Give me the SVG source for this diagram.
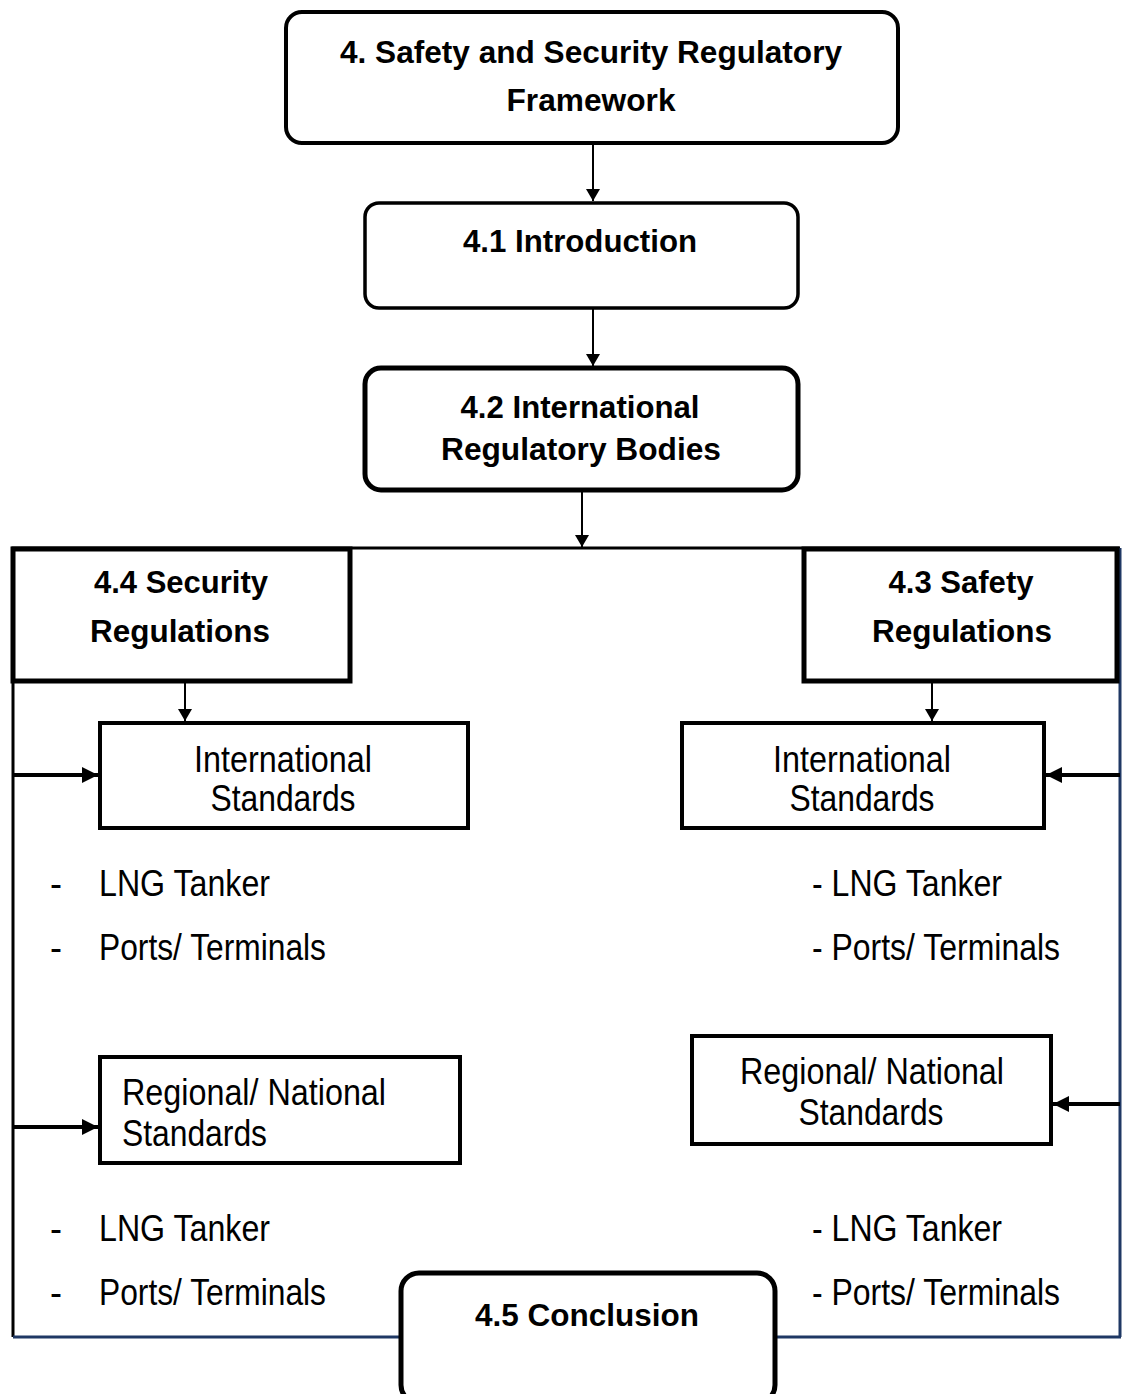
<svg xmlns="http://www.w3.org/2000/svg" width="1125" height="1394" viewBox="0 0 1125 1394">
  <style>
    .box { fill: #ffffff; stroke: #000000; }
    .b { font-family: "Liberation Sans", Arial, sans-serif; font-weight: bold; font-size: 31px; fill: #000000; }
    .r { font-family: "Liberation Sans", Arial, sans-serif; font-size: 36px; fill: #000000; }
    .thin { stroke: #000000; stroke-width: 2; fill: none; }
    .thick { stroke: #000000; stroke-width: 4; fill: none; }
    .frame { stroke: #000000; stroke-width: 3; fill: none; }
    .navy { stroke: #1f3864; stroke-width: 3; fill: none; }
  </style>
  <defs>
    <marker id="headThin" viewBox="0 0 12 14" refX="12" refY="7" markerWidth="12" markerHeight="14" markerUnits="userSpaceOnUse" orient="auto">
      <path d="M0,0 L12,7 L0,14 Z" fill="#000000"/>
    </marker>
    <marker id="headThick" viewBox="0 0 16 16" refX="16" refY="8" markerWidth="16" markerHeight="16" markerUnits="userSpaceOnUse" orient="auto">
      <path d="M0,0 L16,8 L0,16 Z" fill="#000000"/>
    </marker>
  </defs>

  <!-- outer frame and connectors -->
  <g id="connectors">
    <path class="frame" d="M13,1337 L13,548 L1120,548"/>
    <path class="navy" d="M1120,548 L1120,1337"/>
    <path class="navy" d="M13,1337 L400,1337"/>
    <path class="navy" d="M776,1337 L1121,1337"/>

    <line class="thin" x1="593" y1="144" x2="593" y2="201" marker-end="url(#headThin)"/>
    <line class="thin" x1="593" y1="309" x2="593" y2="366" marker-end="url(#headThin)"/>
    <line class="thin" x1="582" y1="491" x2="582" y2="547" marker-end="url(#headThin)"/>
    <line class="thin" x1="185" y1="682" x2="185" y2="721" marker-end="url(#headThin)"/>
    <line class="thin" x1="932" y1="682" x2="932" y2="721" marker-end="url(#headThin)"/>

    <line class="thick" x1="13" y1="775" x2="98" y2="775" marker-end="url(#headThick)"/>
    <line class="thick" x1="13" y1="1127" x2="98" y2="1127" marker-end="url(#headThick)"/>
    <line class="thick" x1="1120" y1="775" x2="1046" y2="775" marker-end="url(#headThick)"/>
    <line class="thick" x1="1120" y1="1104" x2="1053" y2="1104" marker-end="url(#headThick)"/>
  </g>

  <g id="n4">
    <rect class="box" x="286" y="12" width="612" height="131" rx="16" stroke-width="4"/>
    <text class="b" x="591" y="63" text-anchor="middle" textLength="502" lengthAdjust="spacingAndGlyphs">4. Safety and Security Regulatory</text>
    <text class="b" x="591" y="111" text-anchor="middle" textLength="169" lengthAdjust="spacingAndGlyphs">Framework</text>
  </g>

  <g id="n41">
    <rect class="box" x="365" y="203" width="433" height="105" rx="14" stroke-width="3.5"/>
    <text class="b" x="580" y="252" text-anchor="middle" font-size="34" textLength="234" lengthAdjust="spacingAndGlyphs">4.1 Introduction</text>
  </g>

  <g id="n42">
    <rect class="box" x="365" y="368" width="433" height="122" rx="16" stroke-width="5"/>
    <text class="b" x="580" y="418" text-anchor="middle" font-size="32" textLength="239" lengthAdjust="spacingAndGlyphs">4.2 International</text>
    <text class="b" x="581" y="460" text-anchor="middle" font-size="32" textLength="280" lengthAdjust="spacingAndGlyphs">Regulatory Bodies</text>
  </g>

  <g id="n44">
    <rect class="box" x="13" y="549" width="337" height="132" stroke-width="5"/>
    <text class="b" x="181" y="593" text-anchor="middle" font-size="29" textLength="174" lengthAdjust="spacingAndGlyphs">4.4 Security</text>
    <text class="b" x="180" y="642" text-anchor="middle" font-size="29" textLength="180" lengthAdjust="spacingAndGlyphs">Regulations</text>
  </g>

  <g id="n43">
    <rect class="box" x="804" y="549" width="313" height="132" stroke-width="5"/>
    <text class="b" x="961" y="593" text-anchor="middle" font-size="29" textLength="145" lengthAdjust="spacingAndGlyphs">4.3 Safety</text>
    <text class="b" x="962" y="642" text-anchor="middle" font-size="29" textLength="180" lengthAdjust="spacingAndGlyphs">Regulations</text>
  </g>

  <g id="sec-intl">
    <rect class="box" x="100" y="723" width="368" height="105" stroke-width="4"/>
    <text class="r" x="283" y="772" text-anchor="middle" textLength="178" lengthAdjust="spacingAndGlyphs">International</text>
    <text class="r" x="283" y="811" text-anchor="middle" textLength="145" lengthAdjust="spacingAndGlyphs">Standards</text>
  </g>

  <g id="saf-intl">
    <rect class="box" x="682" y="723" width="362" height="105" stroke-width="4"/>
    <text class="r" x="862" y="772" text-anchor="middle" textLength="178" lengthAdjust="spacingAndGlyphs">International</text>
    <text class="r" x="862" y="811" text-anchor="middle" textLength="145" lengthAdjust="spacingAndGlyphs">Standards</text>
  </g>

  <g id="sec-intl-items">
    <text class="r" x="50" y="896">-</text>
    <text class="r" x="99" y="896" textLength="171" lengthAdjust="spacingAndGlyphs">LNG Tanker</text>
    <text class="r" x="50" y="960">-</text>
    <text class="r" x="99" y="960" textLength="227" lengthAdjust="spacingAndGlyphs">Ports/ Terminals</text>
  </g>

  <g id="saf-intl-items">
    <text class="r" x="812" y="896" textLength="190" lengthAdjust="spacingAndGlyphs">- LNG Tanker</text>
    <text class="r" x="812" y="960" textLength="248" lengthAdjust="spacingAndGlyphs">- Ports/ Terminals</text>
  </g>

  <g id="sec-reg">
    <rect class="box" x="100" y="1057" width="360" height="106" stroke-width="4"/>
    <text class="r" x="122" y="1105" textLength="264" lengthAdjust="spacingAndGlyphs">Regional/ National</text>
    <text class="r" x="122" y="1146" textLength="145" lengthAdjust="spacingAndGlyphs">Standards</text>
  </g>

  <g id="saf-reg">
    <rect class="box" x="692" y="1036" width="359" height="108" stroke-width="4"/>
    <text class="r" x="872" y="1084" text-anchor="middle" textLength="264" lengthAdjust="spacingAndGlyphs">Regional/ National</text>
    <text class="r" x="871" y="1125" text-anchor="middle" textLength="145" lengthAdjust="spacingAndGlyphs">Standards</text>
  </g>

  <g id="sec-reg-items">
    <text class="r" x="50" y="1241">-</text>
    <text class="r" x="99" y="1241" textLength="171" lengthAdjust="spacingAndGlyphs">LNG Tanker</text>
    <text class="r" x="50" y="1305">-</text>
    <text class="r" x="99" y="1305" textLength="227" lengthAdjust="spacingAndGlyphs">Ports/ Terminals</text>
  </g>

  <g id="saf-reg-items">
    <text class="r" x="812" y="1241" textLength="190" lengthAdjust="spacingAndGlyphs">- LNG Tanker</text>
    <text class="r" x="812" y="1305" textLength="248" lengthAdjust="spacingAndGlyphs">- Ports/ Terminals</text>
  </g>

  <g id="n45">
    <rect class="box" x="401" y="1273" width="374" height="130" rx="18" stroke-width="5"/>
    <text class="b" x="587" y="1326" text-anchor="middle" font-size="32" textLength="224" lengthAdjust="spacingAndGlyphs">4.5 Conclusion</text>
  </g>
</svg>
